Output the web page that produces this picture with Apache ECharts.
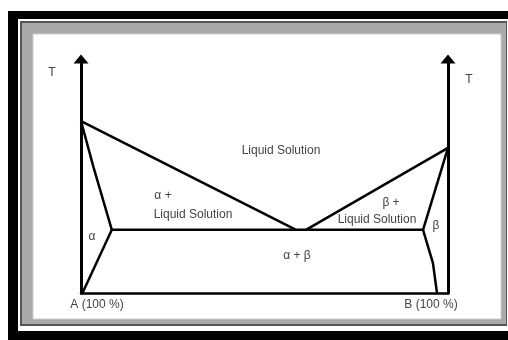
<!DOCTYPE html>
<html>
<head>
    <meta charset="utf-8">
    <title>Phase diagram</title>
    <script src="https://cdn.jsdelivr.net/npm/echarts@6/dist/echarts.min.js"></script>
    <style>
        html, body { margin: 0; padding: 0; background: #fff; }
        #main { width: 508px; height: 340px; }
    </style>
</head>
<body>
<div id="main"></div>
<script type="text/javascript">
    // composition (% B) and temperature (0..100 both)
    var liquidusA = [[0, 73.5], [58.6, 27]];
    var liquidusB = [[61.3, 27], [100, 62]];
    var eutectic = [[8.4, 27], [93.2, 27]];
    var solidusA = [[0, 73.5], [3.4, 53.8], [8.4, 27]];
    var solvusA = [[8.4, 27], [0.4, 0]];
    var solidusB = [[100, 62], [93.2, 27]];
    var solvusB = [[93.2, 27], [95.9, 12.8], [97.0, 0]];

    var boundaries = [liquidusA, liquidusB, eutectic, solidusA, solvusA, solidusB, solvusB];

    var txt = '#444';
    var font = '"Liberation Sans", Arial, sans-serif';

    function label(text, x, y, size) {
        return {
            type: 'text', x: x, y: y, z: 10,
            style: {
                text: text, fill: txt, font: (size || 12) + 'px ' + font,
                align: 'center', verticalAlign: 'middle'
            }
        };
    }

    var myChart = echarts.init(document.getElementById('main'));

    var option = {
        animation: false,
        backgroundColor: '#fff',
        grid: { left: 81, right: 60, top: 59, bottom: 47 },
        xAxis: {
            type: 'value', min: 0, max: 100,
            axisLine: { onZero: false, lineStyle: { color: '#000', width: 2.5 } },
            axisTick: { show: false }, axisLabel: { show: false }, splitLine: { show: false }
        },
        yAxis: [
            {
                type: 'value', min: 0, max: 100, position: 'left',
                axisLine: {
                    show: true, symbol: ['none', 'triangle'], symbolSize: [15, 9],
                    lineStyle: { color: '#000', width: 3 }
                },
                axisTick: { show: false }, axisLabel: { show: false }, splitLine: { show: false }
            },
            {
                type: 'value', min: 0, max: 100, position: 'right',
                axisLine: {
                    show: true, symbol: ['none', 'triangle'], symbolSize: [15, 9],
                    lineStyle: { color: '#000', width: 3 }
                },
                axisTick: { show: false }, axisLabel: { show: false }, splitLine: { show: false }
            }
        ],
        series: boundaries.map(function (d) {
            return {
                type: 'line', data: d, showSymbol: false, silent: true,
                lineStyle: { color: '#000', width: 2.5 }, z: 5
            };
        }),
        graphic: [
            // picture frame
            { type: 'rect', z: -10, shape: { x: 8, y: 11, width: 520, height: 340 }, style: { fill: '#000' } },
            { type: 'rect', z: -9, shape: { x: 18, y: 19, width: 520, height: 312 }, style: { fill: '#fff' } },
            { type: 'rect', z: -8, shape: { x: 20, y: 21, width: 487, height: 305 }, style: { fill: '#555' } },
            { type: 'rect', z: -7, shape: { x: 22, y: 23, width: 484, height: 301 }, style: { fill: '#aaa' } },
            { type: 'rect', z: -6, shape: { x: 33, y: 34, width: 468, height: 285 }, style: { fill: '#fff', stroke: '#ccc', lineWidth: 1 } },

            label('T', 52, 73),
            label('T', 469, 80),
            label('Liquid Solution', 281, 151),
            label('\u03b1 +', 163, 196),
            label('Liquid Solution', 193, 215),
            label('\u03b1', 92, 237),
            label('\u03b2 +', 391, 203),
            label('Liquid Solution', 377, 220),
            label('\u03b2', 436, 226),
            label('\u03b1 + \u03b2', 297, 256),
            label('A (100 %)', 97, 305),
            label('B (100 %)', 431, 305)
        ]
    };

    myChart.setOption(option);
</script>
</body>
</html>
